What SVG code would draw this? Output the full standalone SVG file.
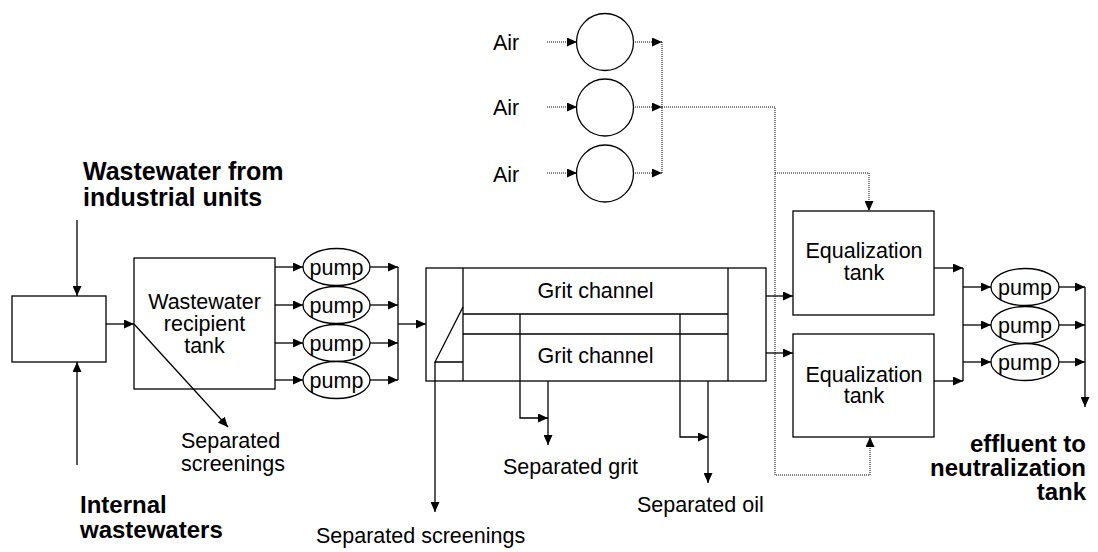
<svg xmlns="http://www.w3.org/2000/svg" width="1098" height="552" viewBox="0 0 1098 552">
<defs>
<marker id="ah" markerUnits="userSpaceOnUse" markerWidth="11" markerHeight="9" refX="10" refY="4.5" orient="auto">
<path d="M0,0 L10,4.5 L0,9 z" fill="#000"/>
</marker>
<style>
.ln{fill:none;stroke:#000;stroke-width:1.3}
.ar{fill:none;stroke:#000;stroke-width:1.3;marker-end:url(#ah)}
.dt{fill:none;stroke:#000;stroke-width:1;stroke-dasharray:1 1}
.dta{fill:none;stroke:#000;stroke-width:1;stroke-dasharray:1 1;marker-end:url(#ah)}
.box{fill:#fff;stroke:#000;stroke-width:1.3}
.t{font-family:"Liberation Sans",Arial,sans-serif;font-size:21.5px;fill:#000}
.b{font-family:"Liberation Sans",Arial,sans-serif;font-size:24px;font-weight:bold;fill:#000}
.c{text-anchor:middle}
</style>
</defs>
<rect width="1098" height="552" fill="#fff"/>

<g id="inlet-box"><rect class="box" x="12" y="296" width="94" height="66"/></g>

<g id="recipient-tank">
<rect class="box" x="134" y="258" width="141" height="131"/>
<text class="t c" x="204.5" y="309">Wastewater</text>
<text class="t c" x="204.5" y="331">recipient</text>
<text class="t c" x="204.5" y="353">tank</text>
</g>

<g id="pump1"><ellipse class="box" cx="336.5" cy="267" rx="33.5" ry="18.5"/><text class="t c" x="336.5" y="274.5">pump</text></g>
<g id="pump2"><ellipse class="box" cx="336.5" cy="305" rx="33.5" ry="18.5"/><text class="t c" x="336.5" y="312.5">pump</text></g>
<g id="pump3"><ellipse class="box" cx="336.5" cy="343" rx="33.5" ry="18.5"/><text class="t c" x="336.5" y="350.5">pump</text></g>
<g id="pump4"><ellipse class="box" cx="336.5" cy="380" rx="33.5" ry="18.5"/><text class="t c" x="336.5" y="387.5">pump</text></g>

<g id="grit-unit">
<rect class="box" x="426" y="268" width="340" height="113"/>
<line class="ln" x1="463" y1="268" x2="463" y2="381"/>
<line class="ln" x1="728" y1="268" x2="728" y2="381"/>
<line class="ln" x1="463" y1="314" x2="728" y2="314"/>
<line class="ln" x1="463" y1="334" x2="728" y2="334"/>
<text class="t c" x="595.5" y="298">Grit channel</text>
<text class="t c" x="595.5" y="363">Grit channel</text>
</g>

<g id="blower1"><circle class="box" cx="605" cy="42" r="28.5"/></g>
<g id="blower2"><circle class="box" cx="605" cy="107.5" r="28.5"/></g>
<g id="blower3"><circle class="box" cx="605" cy="173.5" r="28.5"/></g>

<g id="eq-tank1">
<rect class="box" x="793" y="211" width="141" height="104"/>
<text class="t c" x="864" y="258">Equalization</text>
<text class="t c" x="864" y="280">tank</text>
</g>
<g id="eq-tank2">
<rect class="box" x="793" y="334" width="141" height="103"/>
<text class="t c" x="864" y="382">Equalization</text>
<text class="t c" x="864" y="403">tank</text>
</g>

<g id="pump5"><ellipse class="box" cx="1025" cy="287" rx="34" ry="18.5"/><text class="t c" x="1025" y="294.5">pump</text></g>
<g id="pump6"><ellipse class="box" cx="1025" cy="325" rx="34" ry="18.5"/><text class="t c" x="1025" y="332.5">pump</text></g>
<g id="pump7"><ellipse class="box" cx="1025" cy="362" rx="34" ry="18.5"/><text class="t c" x="1025" y="369.5">pump</text></g>

<g id="connectors">
<line class="ar" x1="77" y1="220" x2="77" y2="296"/>
<line class="ar" x1="77" y1="465" x2="77" y2="362"/>
<line class="ar" x1="106" y1="324" x2="134" y2="324"/>
<line class="ar" x1="134" y1="324" x2="228" y2="427"/>
<line class="ar" x1="275" y1="267" x2="303" y2="267"/>
<line class="ar" x1="275" y1="305" x2="303" y2="305"/>
<line class="ar" x1="275" y1="343" x2="303" y2="343"/>
<line class="ar" x1="275" y1="380" x2="303" y2="380"/>
<line class="ar" x1="370" y1="267" x2="398" y2="267"/>
<line class="ar" x1="370" y1="305" x2="398" y2="305"/>
<line class="ar" x1="370" y1="343" x2="398" y2="343"/>
<line class="ar" x1="370" y1="380" x2="398" y2="380"/>
<line class="ln" x1="398" y1="267" x2="398" y2="380"/>
<line class="ar" x1="398" y1="324" x2="426" y2="324"/>
<polyline class="ln" points="463,307 435,362 463,362"/>
<line class="ar" x1="435" y1="362" x2="435" y2="512"/>
<polyline class="ar" points="520,314 520,418 548,418"/>
<line class="ar" x1="548" y1="381" x2="548" y2="445"/>
<polyline class="ar" points="680,314 680,437 708,437"/>
<line class="ar" x1="708" y1="381" x2="708" y2="483"/>
<line class="ar" x1="766" y1="296" x2="793" y2="296"/>
<line class="ar" x1="766" y1="353" x2="793" y2="353"/>
<line class="ar" x1="934" y1="268" x2="963" y2="268"/>
<line class="ar" x1="934" y1="381" x2="963" y2="381"/>
<line class="ln" x1="963" y1="268" x2="963" y2="381"/>
<line class="ar" x1="963" y1="287" x2="991" y2="287"/>
<line class="ar" x1="963" y1="325" x2="991" y2="325"/>
<line class="ar" x1="963" y1="362" x2="991" y2="362"/>
<line class="ar" x1="1059" y1="287" x2="1085" y2="287"/>
<line class="ar" x1="1059" y1="325" x2="1085" y2="325"/>
<line class="ar" x1="1059" y1="362" x2="1085" y2="362"/>
<line class="ar" x1="1085" y1="287" x2="1085" y2="407"/>
<line class="dta" x1="547" y1="42" x2="577" y2="42"/>
<line class="dta" x1="547" y1="107" x2="577" y2="107"/>
<line class="dta" x1="547" y1="173" x2="577" y2="173"/>
<line class="dta" x1="633" y1="42" x2="662" y2="42"/>
<line class="dta" x1="633" y1="107" x2="662" y2="107"/>
<line class="dta" x1="633" y1="173" x2="662" y2="173"/>
<line class="dt" x1="662" y1="42" x2="662" y2="173"/>
<polyline class="dt" points="662,107 775,107 775,475 870,475"/>
<line class="dta" x1="870" y1="475" x2="870" y2="437"/>
<polyline class="dta" points="775,173 869,173 869,211"/>
</g>

<g id="labels">
<text class="b" x="83" y="180" style="font-size:25px">Wastewater from</text>
<text class="b" x="83" y="206" style="font-size:25px">industrial units</text>
<text class="b" x="80" y="513">Internal</text>
<text class="b" x="80" y="538">wastewaters</text>
<text class="b" x="1086" y="452" text-anchor="end">effluent to</text>
<text class="b" x="1086" y="476" text-anchor="end">neutralization</text>
<text class="b" x="1086" y="500" text-anchor="end">tank</text>
<text class="t" x="181" y="448">Separated</text>
<text class="t" x="181" y="471">screenings</text>
<text class="t" x="503" y="474">Separated grit</text>
<text class="t" x="637" y="512">Separated oil</text>
<text class="t" x="316" y="543">Separated screenings</text>
<text class="t" x="493" y="50">Air</text>
<text class="t" x="493" y="115">Air</text>
<text class="t" x="493" y="182">Air</text>
</g>
</svg>
